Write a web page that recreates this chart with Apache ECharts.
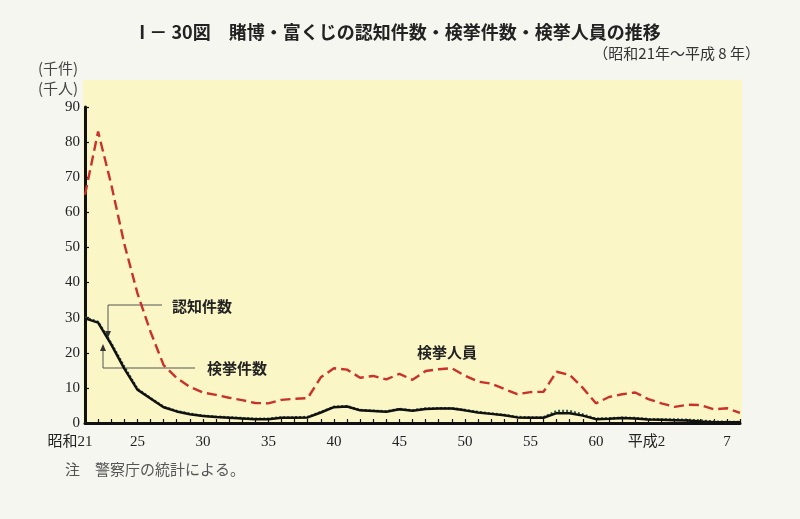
<!DOCTYPE html>
<html>
<head>
<meta charset="utf-8">
<script src="https://cdn.jsdelivr.net/npm/echarts@6/dist/echarts.min.js"></script>
<style>html,body{margin:0;padding:0;background:#f6f6f0;}#c{width:800px;height:519px;}</style>
</head>
<body>
<div id="c"></div>
<script>
// Years: 昭和21 .. 平成8
const years = ['昭和21','昭和22','昭和23','昭和24','昭和25','昭和26','昭和27','昭和28','昭和29','昭和30',
  '昭和31','昭和32','昭和33','昭和34','昭和35','昭和36','昭和37','昭和38','昭和39','昭和40',
  '昭和41','昭和42','昭和43','昭和44','昭和45','昭和46','昭和47','昭和48','昭和49','昭和50',
  '昭和51','昭和52','昭和53','昭和54','昭和55','昭和56','昭和57','昭和58','昭和59','昭和60',
  '昭和61','昭和62','昭和63','平成元','平成2','平成3','平成4','平成5','平成6','平成7','平成8'];

// tick labels shown on the x axis and the category index they sit on
const tickLabels = ['昭和21','25','30','35','40','45','50','55','60','平成2','7'];
const tickIndex  = [0,4,9,14,19,24,29,34,39,44,49];

// 検挙人員 (千人)
const arrestedPersons = [65,83,68,51,37,26,16.5,12.8,10.3,8.7,
  8,7.2,6.5,5.7,5.6,6.6,6.9,7.1,13,15.6,
  15.2,12.9,13.4,12.4,14,12.3,14.8,15.3,15.6,13.5,
  11.8,11.2,9.7,8.2,8.8,8.9,14.6,13.7,10,5.6,
  7.4,8.2,8.7,6.8,5.6,4.6,5.2,5.1,3.9,4.2,2.9];

// 認知件数 (千件)
const recognized = [30,28.8,22.7,16,9.7,7.1,4.6,3.4,2.6,2.1,
  1.8,1.6,1.4,1.2,1.2,1.6,1.6,1.7,3.1,4.6,
  4.8,3.7,3.5,3.3,4,3.6,4.1,4.2,4.2,3.7,
  3.1,2.7,2.3,1.7,1.6,1.6,3.4,3.4,2.4,1.2,
  1.3,1.5,1.4,1.1,1.0,1.0,0.9,0.7,0.4,0.3,0.3];

// 検挙件数 (千件)
const cleared = [29.8,28.6,22.4,15.5,9.5,7,4.5,3.3,2.5,2,
  1.7,1.5,1.3,1.1,1.1,1.5,1.5,1.6,3,4.5,
  4.7,3.6,3.4,3.2,3.9,3.5,4,4.1,4.1,3.6,
  3,2.6,2.2,1.6,1.5,1.5,2.8,2.8,2.1,1.1,
  1.2,1.4,1.3,1.0,0.9,0.8,0.7,0.4,0.2,0.2,0.2];

const serif = "'Liberation Serif','Noto Sans CJK JP',serif";
const jp = "'Noto Sans CJK JP',sans-serif";

const chart = echarts.init(document.getElementById('c'), null, {renderer:'canvas'});
chart.setOption({
  backgroundColor: '#f6f6f0',
  animation: false,
  grid: {left: 85, right: 60, top: 107, bottom: 96, containLabel: false},
  xAxis: {
    type: 'category', data: years, boundaryGap: false,
    axisLine: {lineStyle: {color: '#111', width: 3}},
    axisTick: {inside: true, length: 4, interval: 0, lineStyle: {color: '#111', width: 1.2}},
    axisLabel: {
      interval: function(i){ return tickIndex.indexOf(i) >= 0; },
      formatter: function(v, i){
        const k = tickIndex.indexOf(i);
        if (k < 0) return '';
        const t = tickLabels[k];
        if (t.length > 2) return t + '{s| }';
        return t;
      },
      rich: {s: {width: 30}},
      margin: 12, color: '#222', fontSize: 15, fontFamily: serif
    },
    splitLine: {show: false}
  },
  yAxis: {
    type: 'value', min: 0, max: 90, interval: 10,
    axisLine: {show: true, lineStyle: {color: '#111', width: 3}},
    axisTick: {show: true, inside: true, length: 4, lineStyle: {color: '#111', width: 1.2}},
    axisLabel: {margin: 5, color: '#222', fontSize: 15, fontFamily: serif},
    splitLine: {show: false}
  },
  series: [
    {name: '検挙人員', type: 'line', data: arrestedPersons, showSymbol: false,
     lineStyle: {color: '#c8322a', width: 2.4, type: [10, 5]}, z: 3},
    {name: '認知件数', type: 'line', data: recognized, showSymbol: false,
     lineStyle: {color: '#2f5a48', width: 2.5, type: [2, 2]}, z: 4},
    {name: '検挙件数', type: 'line', data: cleared, showSymbol: false,
     lineStyle: {color: '#111', width: 2.5}, z: 5}
  ],
  graphic: [
    {type: 'rect', z: -10, shape: {x: 83, y: 80, width: 659, height: 343}, style: {fill: '#fbf6c6'}},
    {type: 'text', x: 400, y: 32, style: {text: 'I － 30図　賭博・富くじの認知件数・検挙件数・検挙人員の推移',
      font: 'bold 18px ' + jp, fill: '#222', textAlign: 'center', textVerticalAlign: 'middle'}},
    {type: 'text', x: 760, y: 53, style: {text: '（昭和21年～平成 8 年）',
      font: '15px ' + jp, fill: '#333', textAlign: 'right', textVerticalAlign: 'middle'}},
    {type: 'text', x: 58, y: 68, style: {text: '(千件)', font: '15px ' + jp, fill: '#444', textAlign: 'center', textVerticalAlign: 'middle'}},
    {type: 'text', x: 58, y: 88, style: {text: '(千人)', font: '15px ' + jp, fill: '#444', textAlign: 'center', textVerticalAlign: 'middle'}},
    {type: 'text', x: 65, y: 469, style: {text: '注　警察庁の統計による。', font: '15px ' + jp, fill: '#555', textAlign: 'left', textVerticalAlign: 'middle'}},
    {type: 'text', x: 447, y: 352, style: {text: '検挙人員', font: 'bold 15px ' + jp, fill: '#222', textAlign: 'center', textVerticalAlign: 'middle'}},
    {type: 'text', x: 172, y: 306, style: {text: '認知件数', font: 'bold 15px ' + jp, fill: '#222', textAlign: 'left', textVerticalAlign: 'middle'}},
    {type: 'text', x: 207, y: 368, style: {text: '検挙件数', font: 'bold 15px ' + jp, fill: '#222', textAlign: 'left', textVerticalAlign: 'middle'}},
    {type: 'polyline', shape: {points: [[162, 305], [108, 305], [108, 333]]}, style: {stroke: '#555', lineWidth: 1, fill: null}},
    {type: 'polygon', shape: {points: [[105, 331], [111, 331], [108, 338]]}, style: {fill: '#333'}},
    {type: 'polyline', shape: {points: [[195, 368], [103, 368], [103, 349]]}, style: {stroke: '#555', lineWidth: 1, fill: null}},
    {type: 'polygon', shape: {points: [[100, 351], [106, 351], [103, 344]]}, style: {fill: '#333'}}
  ]
});
</script>
</body>
</html>
